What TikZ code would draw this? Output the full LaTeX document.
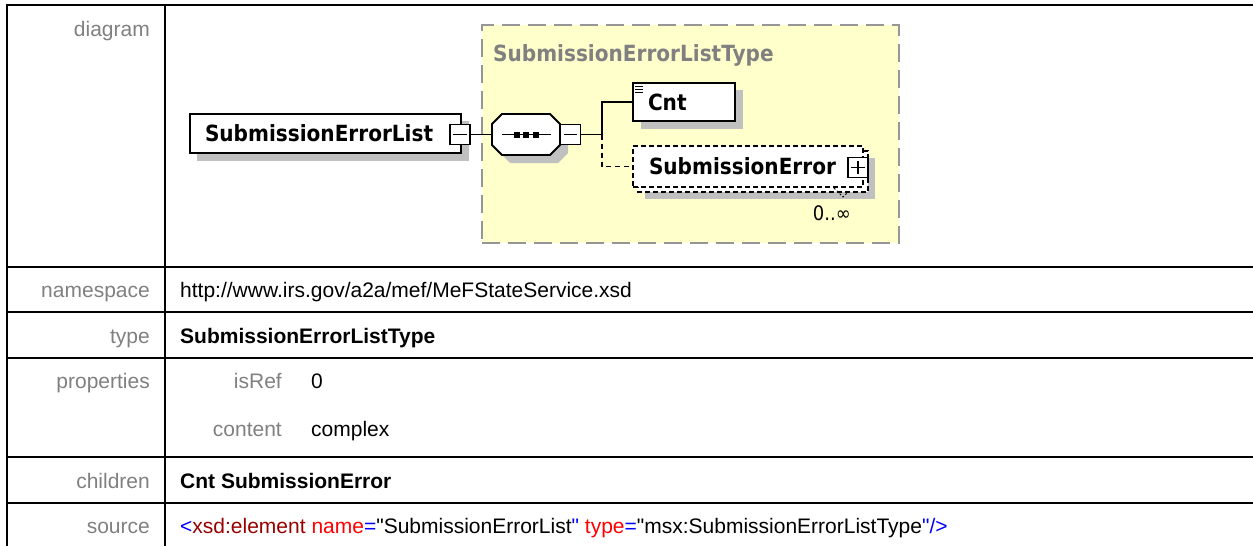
\documentclass[tikz,border=0pt]{standalone}
\usepackage{fontspec}
\setmainfont{Liberation Sans}[Ligatures=TeXOff]
\newfontfamily\dfont[FakeStretch=0.9]{DejaVu Sans}
\definecolor{ylw}{RGB}{255,255,204}
\definecolor{lblgray}{RGB}{128,128,128}
\definecolor{shd}{RGB}{192,192,192}
\definecolor{bordgray}{RGB}{150,150,150}
\definecolor{xblue}{RGB}{0,0,255}
\definecolor{xdark}{RGB}{153,0,0}
\definecolor{xred}{RGB}{255,0,0}
\begin{document}
\begin{tikzpicture}[x=1pt,y=-1pt,
  tline/.style={line width=2pt},
  lbl/.style={anchor=base east, text=lblgray, inner sep=0pt, font=\fontsize{21}{25}\selectfont},
  val/.style={anchor=base west, inner sep=0pt, font=\fontsize{21}{25}\selectfont},
  dfontb/.style={font=\dfont\bfseries\fontsize{22.3}{26}\selectfont},
  elbox/.style={draw, line width=1.8pt, fill=white, inner xsep=15pt, inner ysep=0pt,
    text height=16.3pt, text depth=0pt, align=left, dfontb},
  pmbox/.style={draw, line width=1.8pt, fill=white, minimum size=20pt, inner sep=0pt},
  conn/.style={line width=1.8pt},
  dconn/.style={line width=1.8pt, dash pattern=on 5pt off 4pt},
  shadowfill/.style={fill=shd}
]
\useasboundingbox (0,0) rectangle (1253,546);

% ---------- table ----------
\draw[tline] (1253,5) -- (7,5) -- (7,546);
\draw[tline] (165,5) -- (165,546);
\foreach \yy in {266.5,311.5,357.5,456.5,502.5}
  \draw[tline] (7,\yy) -- (1253,\yy);

\node[lbl] (ldiag) at (150,36) {diagram};
\node[lbl] (lns) at (150,297.5) {namespace};
\node[val] (vns) at (180,297.5) {http://www.irs.gov/a2a/mef/MeFStateService.xsd};
\node[lbl] (ltype) at (150,343) {type};
\node[val] (vtype) at (180,343) {\bfseries SubmissionErrorListType};
\node[lbl] (lprop) at (150,388) {properties};
\node[lbl] (lisref) at (282,388) {isRef};
\node[val] (visref) at (311,388) {0};
\node[lbl] (lcont) at (282,436) {content};
\node[val] (vcont) at (311,436) {complex};
\node[lbl] (lchild) at (150,488) {children};
\node[val] (vchild) at (180,488) {\bfseries Cnt SubmissionError};
\node[lbl] (lsrc) at (150,533) {source};
\node[val] (vsrc) at (180,533) {\textcolor{xblue}{<}\textcolor{xdark}{xsd:element} \textcolor{xred}{name}\textcolor{xblue}{=}"SubmissionErrorList\textcolor{xblue}{"} \textcolor{xred}{type}\textcolor{xblue}{=}"msx:SubmissionErrorListType\textcolor{xblue}{"/>}};

% ---------- diagram ----------
\node[draw=bordgray, line width=2pt, dash pattern=on 18pt off 8pt, fill=ylw,
      minimum width=417pt, minimum height=218pt, inner sep=0pt] (ctype) at (690.5,134) {};
\node[anchor=base west, inner sep=0pt, text=lblgray, dfontb] (ctitle) at (493,61) {SubmissionErrorListType};

% shadows
\fill[shadowfill] (197,121) rectangle (469,161);
\fill[shadowfill, shift={(8,8)}] (492,124) -- (502,114) -- (550,114) -- (560,124) -- (560,145) -- (550,155) -- (502,155) -- (492,145) -- cycle;
\fill[shadowfill] (641,90) rectangle (743,129);
\fill[shadowfill] (645,158) rectangle (875,199);

% element SubmissionErrorList
\node[elbox, text width=241pt, minimum height=39pt] (sel) at (325.5,133.5) {SubmissionErrorList};
\node[pmbox] (m1) at (460,134.5) {};
\draw[line width=1.6pt] ([xshift=4pt]m1.west) -- ([xshift=-4pt]m1.east);

% sequence compositor
\node[minimum width=68pt, minimum height=41pt, inner sep=0pt] (seq) at (526,134.5) {};
\draw[line width=1.8pt, fill=white] (492,124) -- (502,114) -- (550,114) -- (560,124) -- (560,145) -- (550,155) -- (502,155) -- (492,145) -- cycle;
\draw[line width=1.6pt] (502,134.5) -- (551,134.5);
\fill (514,131.5) rectangle (520,137.5);
\fill (523,131.5) rectangle (529,137.5);
\fill (533,131.5) rectangle (539,137.5);
\node[pmbox] (m2) at (570.5,134.5) {};
\draw[line width=1.6pt] ([xshift=4pt]m2.west) -- ([xshift=-4pt]m2.east);

% element Cnt
\node[elbox, text width=72pt, minimum height=38pt] (cnt) at (684,102) {Cnt};
\draw[line width=1pt] ([xshift=3pt,yshift=-4.5pt]cnt.north west) -- ++(8,0);
\draw[line width=1pt] ([xshift=3pt,yshift=-7.5pt]cnt.north west) -- ++(8,0);
\draw[line width=1pt] ([xshift=3pt,yshift=-10.5pt]cnt.north west) -- ++(8,0);

% element SubmissionError (repeating)
\draw[line width=1.8pt, dash pattern=on 5pt off 3pt, fill=white] (638,151) rectangle (868,192);
\node[elbox, dash pattern=on 5pt off 3pt, inner xsep=16pt, text width=198pt, minimum height=41pt] (se) at (748,166.5) {SubmissionError};
\node[pmbox] (p1) at (858,167.5) {};
\draw[line width=1.6pt] ([xshift=4pt]p1.west) -- ([xshift=-4pt]p1.east);
\draw[line width=1.6pt] ([yshift=-4pt]p1.north) -- ([yshift=4pt]p1.south);
\node[anchor=base east, inner sep=0pt, font=\dfont\fontsize{20}{24}\selectfont] (card) at (851,220) {0..∞};
\draw[line width=0.8pt, dash pattern=on 2pt off 2pt] (834,188) -- (843,197) -- (848,192);

% connectors
\coordinate (jn) at (602,134.5);
\draw[conn] (m1.east) -- (seq.west);
\draw[conn] (m2.east) -- (jn) |- (cnt.west);
\draw[dconn] (jn) |- (se.west);
\end{tikzpicture}
\end{document}
